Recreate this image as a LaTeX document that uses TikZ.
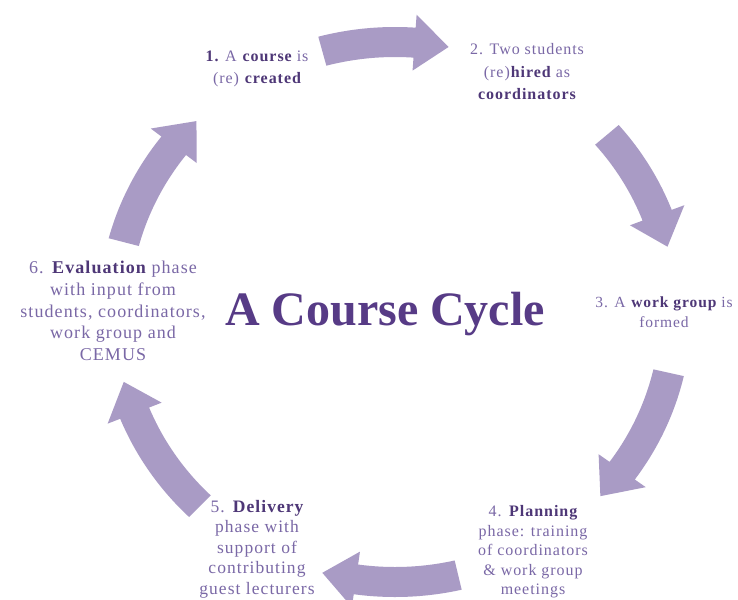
\documentclass[tikz,border=0pt]{standalone}
\usepackage{fontspec}
\setmainfont{Liberation Serif}[LetterSpace=6]
\newfontfamily\titlefont{Liberation Serif}
\definecolor{arrowfill}{HTML}{A99BC5}
\definecolor{txt}{HTML}{7A68A6}
\definecolor{txtb}{HTML}{4E3777}
\definecolor{titlec}{HTML}{573B86}
\newcommand\hb[1]{\textbf{\color{txtb}#1}}
\newcommand\Rm{270pt}
\newcommand\Ro{285pt}
\newcommand\Ri{255pt}
\newcommand\Rho{298pt}
\newcommand\Rhi{242pt}
% #1 tail angle, #2 tip angle (clockwise), head base at #2+7
\newcommand\cycarrow[2]{%
  \fill[arrowfill] (#1:\Ro) arc[start angle=#1, end angle=#2+7, radius=\Ro]
    -- ({#2+7}:\Rho) -- (#2:\Rm) -- ({#2+7}:\Rhi) -- ({#2+7}:\Ri)
    arc[start angle=#2+7, end angle=#1, radius=\Ri] -- cycle;}
\tikzset{
  lab/.style={align=center, text=txt, inner sep=0pt}
}
\begin{document}
\begin{tikzpicture}[x=1pt,y=1pt]
\clip (0,0) rectangle (738,-599);
\fill[white] (0,0) rectangle (738,-599);
\begin{scope}[shift={(395,-312)}, xscale=1.04]
  \cycarrow{105}{79}
  \cycarrow{41}{14}
  \cycarrow{-13}{-43}
  \cycarrow{-77}{-105}
  \cycarrow{-134}{-165}
  \cycarrow{165}{135}
\end{scope}
\node[lab, font=\fontsize{16}{22}\selectfont] (s1) at (257,-69) {\hb{1.} A \hb{course} is\\(re) \hb{created}};
\node[lab, font=\fontsize{16}{22.5}\selectfont] (s2) at (527,-72) {2. Two students\\(re)\hb{hired} as\\\hb{coordinators}};
\node[lab, font=\fontsize{15.5}{20}\selectfont] (s3) at (664,-312) {3. A \hb{work group} is\\formed};
\node[lab, font=\fontsize{16}{19.5}\selectfont] (s4) at (533,-552) {4. \hb{Planning}\\phase: training\\of coordinators\\\& work group\\meetings};
\node[lab, font=\fontsize{17.5}{20.5}\selectfont] (s5) at (257,-549) {5. \hb{Delivery}\\phase with\\support of\\contributing\\guest lecturers};
\node[lab, font=\fontsize{18}{21.7}\selectfont] (s6) at (113,-311) {6. \hb{Evaluation} phase\\with input from\\students, coordinators,\\work group and\\CEMUS};
\node[text=titlec, inner sep=0pt, anchor=base, font=\titlefont\bfseries\fontsize{48}{52}\selectfont] (title) at (385,-325) {A Course Cycle};
\end{tikzpicture}
\end{document}
